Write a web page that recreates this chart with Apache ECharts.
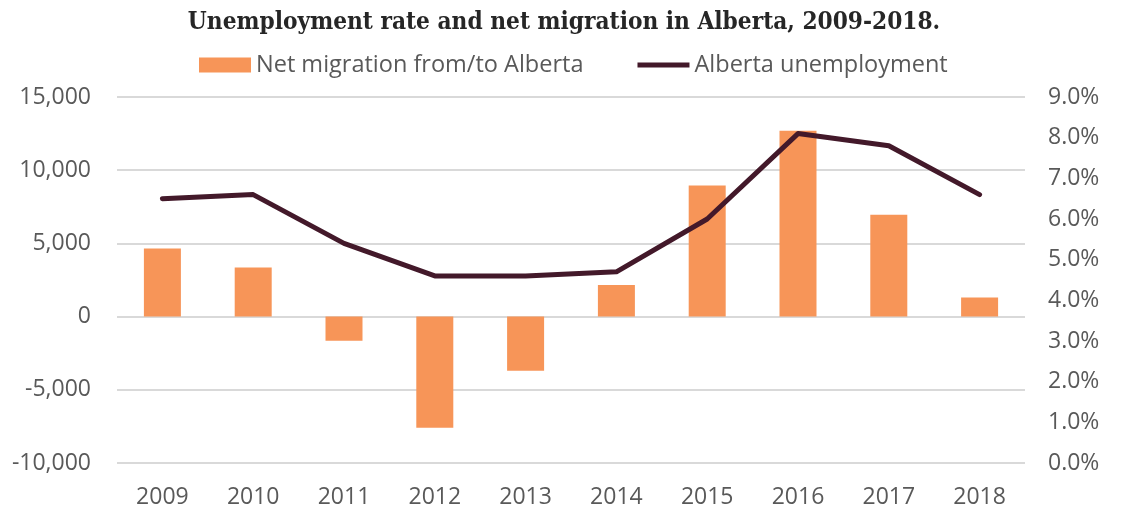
<!DOCTYPE html>
<html>
<head>
<meta charset="utf-8">
<script src="https://cdn.jsdelivr.net/npm/echarts@6/dist/echarts.min.js"></script>
<style>
html,body{margin:0;padding:0;background:#fff;}
#main{width:1128px;height:510px;}
</style>
</head>
<body>
<div id="main"></div>
<script>
var years = ['2009','2010','2011','2012','2013','2014','2015','2016','2017','2018'];
var netMigration = [4650, 3350, -1650, -7600, -3700, 2150, 8950, 12700, 6950, 1300];
var unemployment = [6.5, 6.6, 5.4, 4.6, 4.6, 4.7, 6.0, 8.1, 7.8, 6.6];
var leftTicks = {min: -10000, max: 15000, interval: 5000};
var rightTicks = {min: 0, max: 9, interval: 1};

var FONT = 'Open Sans';
var chart = echarts.init(document.getElementById('main'), null, {renderer: 'canvas'});
chart.setOption({
  animation: false,
  backgroundColor: '#ffffff',
  title: {
    text: 'Unemployment rate and net migration in Alberta, 2009-2018.',
    left: 'center',
    top: 6,
    textStyle: {fontFamily: 'DejaVu Serif Condensed', fontWeight: 'bold', fontSize: 24.2, color: '#262626'}
  },
  legend: {
    top: 48,
    left: 194,
    itemGap: 54,
    itemWidth: 52,
    itemHeight: 15,
    textStyle: {fontFamily: FONT, fontSize: 23.5, color: '#595959'},
    data: [
      {name: 'Net migration from/to Alberta', icon: 'rect'},
      {name: 'Alberta unemployment', icon: 'path://M0,0 L52,0 L52,5 L0,5 Z'}
    ]
  },
  grid: {left: 117, right: 103, top: 97, bottom: 47, containLabel: false},
  xAxis: {
    type: 'category',
    data: years,
    axisLine: {show: false},
    axisTick: {show: false},
    axisLabel: {fontFamily: FONT, fontSize: 23, color: '#595959', margin: 23}
  },
  yAxis: [
    {
      type: 'value',
      min: leftTicks.min, max: leftTicks.max, interval: leftTicks.interval,
      axisLine: {show: false}, axisTick: {show: false},
      splitLine: {lineStyle: {color: '#d9d9d9', width: 2}},
      axisLabel: {fontFamily: FONT, fontSize: 23, color: '#595959', margin: 26,
        formatter: function(v){ return v.toLocaleString('en-US'); }}
    },
    {
      type: 'value',
      min: rightTicks.min, max: rightTicks.max, interval: rightTicks.interval,
      axisLine: {show: false}, axisTick: {show: false},
      splitLine: {show: false},
      axisLabel: {fontFamily: FONT, fontSize: 23, color: '#595959', margin: 23,
        formatter: function(v){ return v.toFixed(1) + '%'; }}
    }
  ],
  series: [
    {
      name: 'Net migration from/to Alberta',
      type: 'bar',
      yAxisIndex: 0,
      data: netMigration,
      barWidth: 37,
      itemStyle: {color: '#F79558'}
    },
    {
      name: 'Alberta unemployment',
      type: 'line',
      yAxisIndex: 1,
      data: unemployment,
      symbol: 'none',
      lineStyle: {color: '#43192A', width: 5, cap: 'round', join: 'round'},
      itemStyle: {color: '#43192A'}
    }
  ]
});
</script>
</body>
</html>
